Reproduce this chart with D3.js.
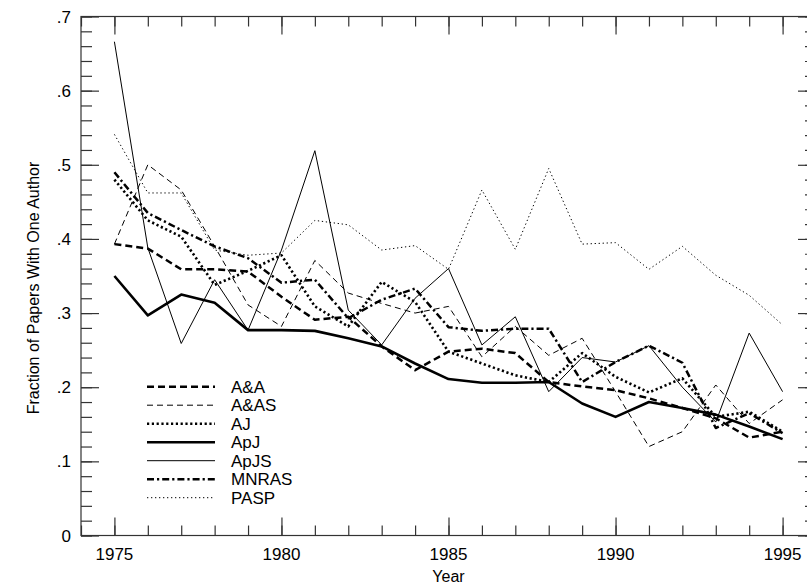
<!DOCTYPE html>
<html>
<head>
<meta charset="utf-8">
<script src="https://cdn.jsdelivr.net/npm/d3@7"></script>
<style>
  body { margin: 0; background: #fff; }
  text { font-family: "Liberation Sans", Arial, sans-serif; fill: #000; }
</style>
</head>
<body>
<div id="chart"></div>
<script>
// Data
var years = d3.range(1975, 1996);
var journals = ["A&A", "A&AS", "AJ", "ApJ", "ApJS", "MNRAS", "PASP"];

var aa    = [.393, .387, .359, .359, .356, .322, .291, .295, .255, .223, .248, .252, .246, .207, .201, .196, .185, .172, .158, .132, .140];
var aas   = [.393, .500, .466, .390, .311, .282, .371, .327, .313, .300, .309, .241, .282, .243, .266, .194, .120, .140, .203, .151, .183];
var aj    = [.480, .425, .403, .338, .357, .378, .309, .282, .342, .315, .248, .232, .216, .207, .246, .214, .193, .212, .160, .167, .140];
var apj   = [.350, .297, .325, .314, .277, .277, .276, .266, .255, .232, .211, .206, .206, .207, .178, .160, .180, .172, .163, .147, .130];
var apjs  = [.666, .388, .259, .345, .277, .385, .519, .304, .257, .320, .360, .257, .295, .194, .240, .234, .256, .200, .153, .273, .194];
var mnras = [.490, .435, .412, .390, .374, .341, .345, .293, .318, .333, .281, .276, .279, .279, .207, .234, .256, .233, .145, .165, .138];
var pasp  = [.541, .462, .462, .385, .378, .381, .425, .419, .385, .391, .359, .466, .386, .495, .393, .395, .359, .390, .351, .324, .284];

var xTickLabels = ["1975", "1980", "1985", "1990", "1995"];
var yTickLabels = ["0", ".1", ".2", ".3", ".4", ".5", ".6", ".7"];

var seriesValues = [aa, aas, aj, apj, apjs, mnras, pasp];

// Line styles per journal
var styles = [
    {width: 2.5, dash: "7,4"},
    {width: 1, dash: "6,4"},
    {width: 2.6, dash: "2.2,2.6"},
    {width: 2.6, dash: null},
    {width: 1, dash: null},
    {width: 2.5, dash: "7,3,2.2,3"},
    {width: 1, dash: "1.3,2.7"}
];

// Graph size
var svgWidth = 807;
var svgHeight = 587;

var svg = d3.select("#chart")
    .append("svg")
    .attr("width", svgWidth)
    .attr("height", svgHeight);

// Scales (right edge of frame falls just outside the picture)
var x = d3.scaleLinear()
    .domain([1974, 1996])
    .range([81, 816]);

var y = d3.scaleLinear()
    .domain([0, 0.7])
    .range([535.5, 16.5]);

var axisColor = "#333";

// Frame
svg.append("rect")
    .attr("x", x(1974))
    .attr("y", y(0.7))
    .attr("width", x(1996) - x(1974))
    .attr("height", y(0) - y(0.7))
    .attr("fill", "none")
    .attr("stroke", axisColor)
    .attr("stroke-width", 1.2);

// Axes with inward ticks, minor every year / every .02
var xMinor = d3.range(1974, 1997);
var xMajor = xTickLabels.map(d => +d);
var yMinor = d3.range(0, 36).map(i => i * 0.02);
var yMajor = yTickLabels.map((d, i) => i / 10);

function addAxis(axis, transform) {
    svg.append("g")
        .attr("transform", transform)
        .call(axis)
        .call(g => g.select(".domain").remove())
        .call(g => g.selectAll("line").attr("stroke", axisColor).attr("stroke-width", 1.2))
        .call(g => g.selectAll("text").remove());
}

// minor ticks
addAxis(d3.axisBottom(x).tickValues(xMinor).tickSize(-10), `translate(0,${y(0)})`);
addAxis(d3.axisTop(x).tickValues(xMinor).tickSize(-10), `translate(0,${y(0.7)})`);
addAxis(d3.axisLeft(y).tickValues(yMinor).tickSize(-11), `translate(${x(1974)},0)`);
addAxis(d3.axisRight(y).tickValues(yMinor).tickSize(-11), `translate(${x(1996)},0)`);
// major ticks
addAxis(d3.axisBottom(x).tickValues(xMajor).tickSize(-18), `translate(0,${y(0)})`);
addAxis(d3.axisTop(x).tickValues(xMajor).tickSize(-18), `translate(0,${y(0.7)})`);
addAxis(d3.axisLeft(y).tickValues(yMajor).tickSize(-18), `translate(${x(1974)},0)`);
addAxis(d3.axisRight(y).tickValues(yMajor).tickSize(-18), `translate(${x(1996)},0)`);

// Tick labels
svg.append("g")
    .selectAll("text")
    .data(xTickLabels)
    .enter()
    .append("text")
    .attr("x", d => x(+d))
    .attr("y", 560)
    .attr("text-anchor", "middle")
    .style("font-size", "17px")
    .text(d => d);

svg.append("g")
    .selectAll("text")
    .data(yTickLabels)
    .enter()
    .append("text")
    .attr("x", 71)
    .attr("y", (d, i) => y(i / 10))
    .attr("dy", "0.36em")
    .attr("text-anchor", "end")
    .style("font-size", "17px")
    .text(d => d);

// Axis titles
svg.append("text")
    .attr("x", x(1985))
    .attr("y", 582)
    .attr("text-anchor", "middle")
    .style("font-size", "16px")
    .text("Year");

svg.append("text")
    .attr("transform", "translate(39, 288) rotate(-90)")
    .attr("text-anchor", "middle")
    .style("font-size", "16px")
    .text("Fraction of Papers With One Author");

// Lines
var line = d3.line()
    .x((d, i) => x(years[i]))
    .y(d => y(d));

svg.append("g")
    .selectAll("path")
    .data(seriesValues)
    .enter()
    .append("path")
    .attr("d", d => line(d))
    .attr("fill", "none")
    .attr("stroke", "#000")
    .attr("stroke-width", (d, i) => styles[i].width)
    .attr("stroke-dasharray", (d, i) => styles[i].dash)
    .attr("stroke-linejoin", "round");

// Legend
var legend = svg.append("g")
    .selectAll("g")
    .data(journals)
    .enter()
    .append("g")
    .attr("transform", (d, i) => `translate(0, ${386.7 + i * 18.5})`);

legend.append("line")
    .attr("x1", 147)
    .attr("x2", 215)
    .attr("stroke", "#000")
    .attr("stroke-width", (d, i) => styles[i].width)
    .attr("stroke-dasharray", (d, i) => styles[i].dash);

legend.append("text")
    .attr("x", 231)
    .attr("dy", "0.36em")
    .style("font-size", "17px")
    .text(d => d);
</script>
</body>
</html>
